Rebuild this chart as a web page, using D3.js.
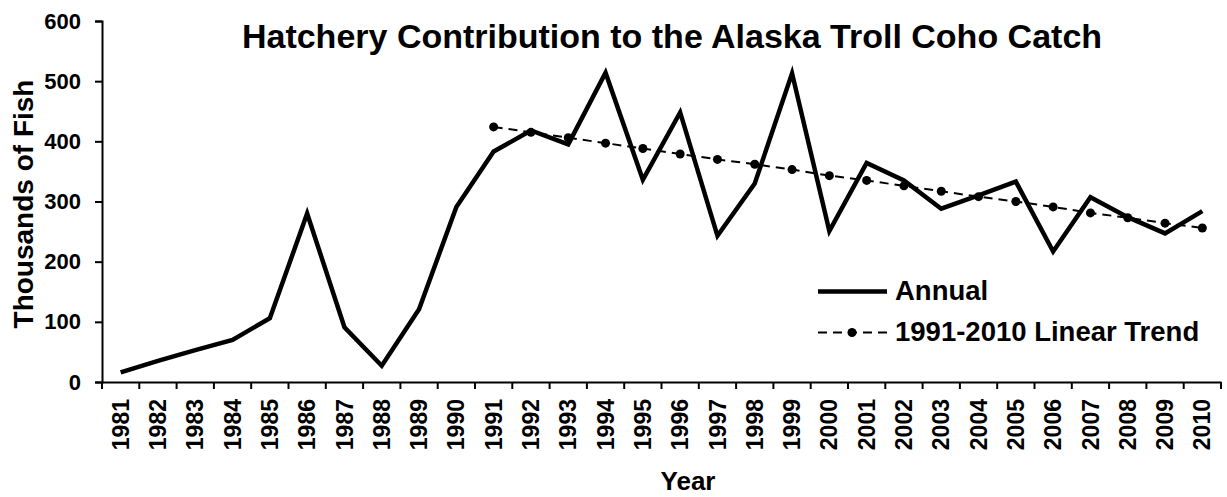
<!DOCTYPE html>
<html>
<head>
<meta charset="utf-8">
<script src="https://cdn.jsdelivr.net/npm/d3@7"></script>
<style>
  body { margin: 0; background: #fff; }
  svg { display: block; font-family: "Liberation Sans", Arial, sans-serif; font-weight: bold; }
</style>
</head>
<body>
<svg></svg>
<script>
//chart size
const width = 1227;
const height = 497;

//data
const years = d3.range(1981, 2011).map(String);
const annual = [16, 35, 53, 70, 106, 280, 91, 27, 121, 291,
  383, 418, 395, 514, 336, 448, 243, 330, 513, 251,
  364, 335, 288, 310, 333, 217, 307, 274, 247, 284];
const trendYears = d3.range(1991, 2011).map(String);
const trend = [424, 415, 406, 397, 388, 379, 370, 362, 353, 343,
  335, 326, 317, 308, 300, 291, 281, 273, 264, 256];
const yTicks = [0, 100, 200, 300, 400, 500, 600];

const margin = {top: 21, right: 6, bottom: 115, left: 102};

const svg = d3.select("svg")
  .attr("width", width)
  .attr("height", height);

//scales
const x = d3.scaleBand()
  .domain(years)
  .range([margin.left, width - margin.right]);

const y = d3.scaleLinear()
  .domain([0, 600])
  .range([height - margin.bottom, margin.top]);

const cx = d => x(d) + x.bandwidth() / 2;

//y axis
const yAxis = svg.append("g")
  .attr("transform", `translate(${margin.left},0)`)
  .call(d3.axisLeft(y).tickValues(yTicks).tickSize(7).tickPadding(14));
yAxis.select(".domain").attr("stroke-width", 2);
yAxis.selectAll(".tick line").attr("stroke-width", 2);
yAxis.selectAll("text")
  .attr("font-size", 22)
  .attr("font-family", "Liberation Sans, Arial, sans-serif")
  .attr("font-weight", "bold")
  .attr("fill", "#000");

//x axis
const xAxis = svg.append("g")
  .attr("transform", `translate(0,${y(0)})`)
  .call(d3.axisBottom(x).tickSize(0).tickPadding(0));
xAxis.select(".domain").attr("stroke-width", 2);
xAxis.selectAll("text")
  .attr("font-size", 23)
  .attr("font-family", "Liberation Sans, Arial, sans-serif")
  .attr("font-weight", "bold")
  .attr("fill", "#000")
  .attr("text-anchor", "end")
  .attr("dy", "0.35em")
  .attr("transform", "translate(0,17) rotate(-90)");

//ticks between categories
svg.append("g")
  .selectAll("line")
  .data(years.concat(["end"]))
  .enter().append("line")
  .attr("x1", (d, i) => margin.left + i * x.bandwidth())
  .attr("x2", (d, i) => margin.left + i * x.bandwidth())
  .attr("y1", y(0))
  .attr("y2", y(0) + 7)
  .attr("stroke", "#000")
  .attr("stroke-width", 2);

//annual line
const line = d3.line()
  .x(d => cx(d[0]))
  .y(d => y(d[1]));

svg.append("path")
  .datum(years.map((d, i) => [d, annual[i]]))
  .attr("d", line)
  .attr("fill", "none")
  .attr("stroke", "#000")
  .attr("stroke-width", 4.5)
  .attr("stroke-linejoin", "miter");

//trend line
svg.append("path")
  .datum(trendYears.map((d, i) => [d, trend[i]]))
  .attr("d", line)
  .attr("fill", "none")
  .attr("stroke", "#000")
  .attr("stroke-width", 2)
  .attr("stroke-dasharray", "9,6");

svg.selectAll("circle.trend")
  .data(trendYears)
  .enter().append("circle")
  .attr("class", "trend")
  .attr("cx", d => cx(d))
  .attr("cy", (d, i) => y(trend[i]))
  .attr("r", 4.5)
  .attr("fill", "#000");

//title
svg.append("text")
  .attr("x", 672)
  .attr("y", 48)
  .attr("text-anchor", "middle")
  .attr("font-size", 34)
  .text("Hatchery Contribution to the Alaska Troll Coho Catch");

//axis titles
svg.append("text")
  .attr("transform", "translate(33,204) rotate(-90)")
  .attr("text-anchor", "middle")
  .attr("font-size", 28)
  .text("Thousands of Fish");

svg.append("text")
  .attr("x", 688)
  .attr("y", 490)
  .attr("text-anchor", "middle")
  .attr("font-size", 26)
  .text("Year");

//legend
const legend = svg.append("g");
legend.append("line")
  .attr("x1", 818).attr("x2", 887)
  .attr("y1", 291.5).attr("y2", 291.5)
  .attr("stroke", "#000")
  .attr("stroke-width", 4.5);
legend.append("text")
  .attr("x", 895).attr("y", 299.5)
  .attr("font-size", 27.5)
  .text("Annual");

legend.append("line")
  .attr("x1", 818).attr("x2", 887)
  .attr("y1", 332.5).attr("y2", 332.5)
  .attr("stroke", "#000")
  .attr("stroke-width", 2)
  .attr("stroke-dasharray", "9,6");
legend.append("circle")
  .attr("cx", 852).attr("cy", 332.5)
  .attr("r", 4.5)
  .attr("fill", "#000");
legend.append("text")
  .attr("x", 895).attr("y", 340.5)
  .attr("font-size", 27.5)
  .text("1991-2010 Linear Trend");
</script>
</body>
</html>
